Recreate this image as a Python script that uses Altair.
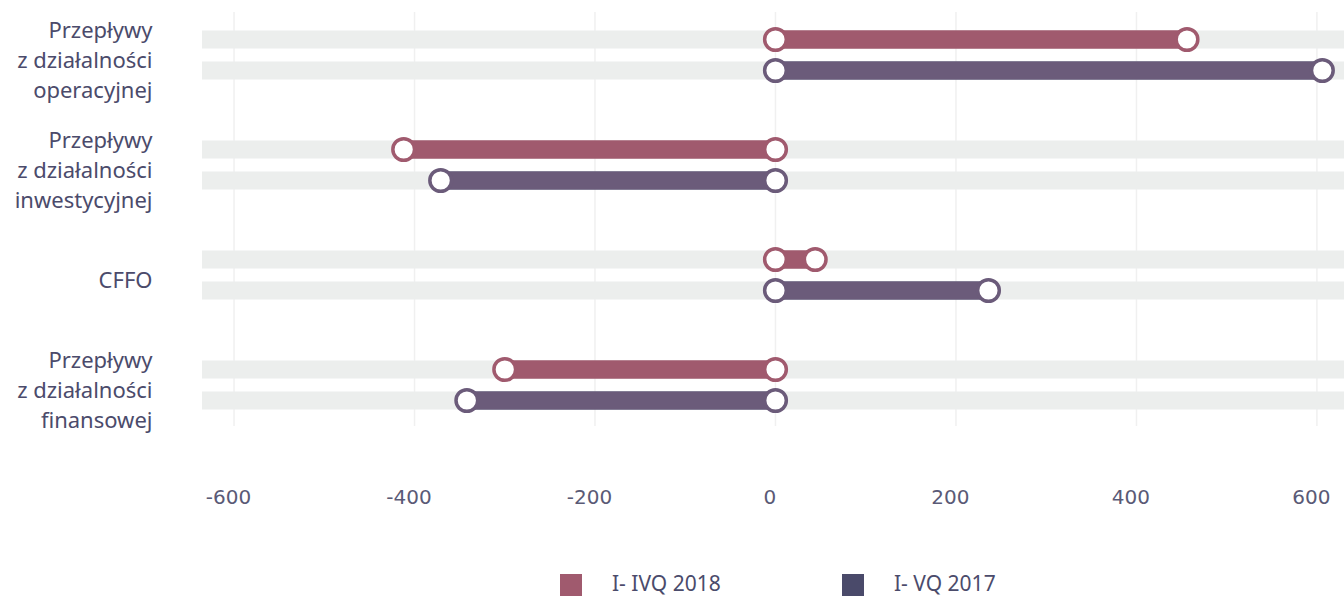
import altair as alt
import pandas as pd

# ---- data ----
groups = [
    "Przepływy|z działalności|operacyjnej",
    "Przepływy|z działalności|inwestycyjnej",
    "CFFO",
    "Przepływy|z działalności|finansowej",
]
series = ["I- IVQ 2018", "I- VQ 2017"]
values_2018 = [456, -412, 44, -300]
values_2017 = [606, -371, 236, -342]
start_values = [0, 0, 0, 0]
tick_values = [-600, -400, -200, 0, 200, 400, 600]
X_MIN, X_MAX = -635.5, 630

# ---- styles ----
PINK = "#a05a6e"
PURPLE = "#6b5b7a"
DARK = "#4a4a6a"
TEXT = "#4b4b6b"
TRACK = "#eceeed"
GRID = "#f0f0f0"
FONT = "Noto Sans"

rows = []
for g, a, b, s in zip(groups, values_2018, values_2017, start_values):
    rows.append({"group": g, "series": series[0], "start": s, "value": a})
    rows.append({"group": g, "series": series[1], "start": s, "value": b})
df = pd.DataFrame(rows)

pts = []
for r in rows:
    pts.append({"group": r["group"], "series": r["series"], "x": r["start"]})
    pts.append({"group": r["group"], "series": r["series"], "x": r["value"]})
pts_df = pd.DataFrame(pts)
ticks_df = pd.DataFrame({"t": tick_values})

xscale = alt.Scale(domain=[X_MIN, X_MAX], nice=False, zero=False)
y_enc = alt.Y(
    "group:N",
    sort=groups,
    scale=alt.Scale(paddingInner=0, paddingOuter=0),
    axis=alt.Axis(
        title=None,
        labelExpr="indexof(datum.label, '|') < 0 ? [' ', datum.label, ' '] : split(datum.label, '|')",
        labelFont=FONT,
        labelFontSize=22,
        labelColor=TEXT,
        labelLineHeight=30,
        labelPadding=50,
        labelOffset=-24,
        labelAlign="right",
        labelBaseline="middle",
        domain=False,
        ticks=False,
        grid=False,
        labelLimit=300,
    ),
)
yoff = alt.YOffset(
    "series:N", sort=series, scale=alt.Scale(paddingInner=0, paddingOuter=0.774)
)
x_axis = alt.Axis(
    title=None,
    values=tick_values,
    labelExpr="replace(datum.label, '−', '-')",
    labelFont="DejaVu Sans",
    labelFontSize=20,
    labelColor="#5a5a76",
    labelPadding=47,
    labelOffset=-6,
    domain=False,
    ticks=False,
    grid=False,
)

grid = alt.Chart(ticks_df).mark_rule(color=GRID, strokeWidth=1.5).encode(
    x=alt.X("t:Q", scale=xscale, axis=x_axis),
    y=alt.value(12),
    y2=alt.value(426),
)

track = alt.Chart(df).mark_bar(color=TRACK, size=18).encode(
    x=alt.datum(X_MIN, scale=xscale),
    x2=alt.datum(X_MAX),
    y=y_enc,
    yOffset=yoff,
)

# bars carrying the legend (legend colours), drawn under the visible bars
legend_bars = alt.Chart(df).mark_bar(size=18).encode(
    x=alt.X("start:Q", scale=xscale),
    x2="value:Q",
    y=y_enc,
    yOffset=yoff,
    fill=alt.Fill(
        "series:N",
        sort=series,
        scale=alt.Scale(domain=series, range=[PINK, DARK]),
        legend=alt.Legend(
            title=None,
            orient="none",
            legendX=358,
            legendY=574,
            direction="horizontal",
            symbolType="square",
            symbolSize=484,
            symbolStrokeWidth=0,
            labelFont=FONT,
            labelFontSize=21,
            labelColor=TEXT,
            labelOffset=30,
            columnPadding=121,
            padding=0,
        ),
    ),
)

bars = alt.Chart(df).mark_bar(size=18).encode(
    x=alt.X("start:Q", scale=xscale),
    x2="value:Q",
    y=y_enc,
    yOffset=yoff,
    color=alt.Color(
        "series:N", scale=alt.Scale(domain=series, range=[PINK, PURPLE]), legend=None
    ),
)

dots = alt.Chart(pts_df).mark_point(
    filled=True, fill="white", size=470, strokeWidth=3.5, opacity=1
).encode(
    x=alt.X("x:Q", scale=xscale),
    y=y_enc,
    yOffset=yoff,
    stroke=alt.Stroke(
        "series:N", scale=alt.Scale(domain=series, range=[PINK, PURPLE]), legend=None
    ),
)

chart = (
    alt.layer(grid, track, legend_bars, bars, dots)
    .properties(
        width=1142,
        height=440,
        autosize=alt.AutoSizeParams(type="none"),
        padding={"left": 202, "top": 0, "right": 0, "bottom": 161},
        background="white",
    )
    .configure_view(stroke=None)
)

chart.save("out.html", embed_options={"renderer": "svg", "actions": False})
